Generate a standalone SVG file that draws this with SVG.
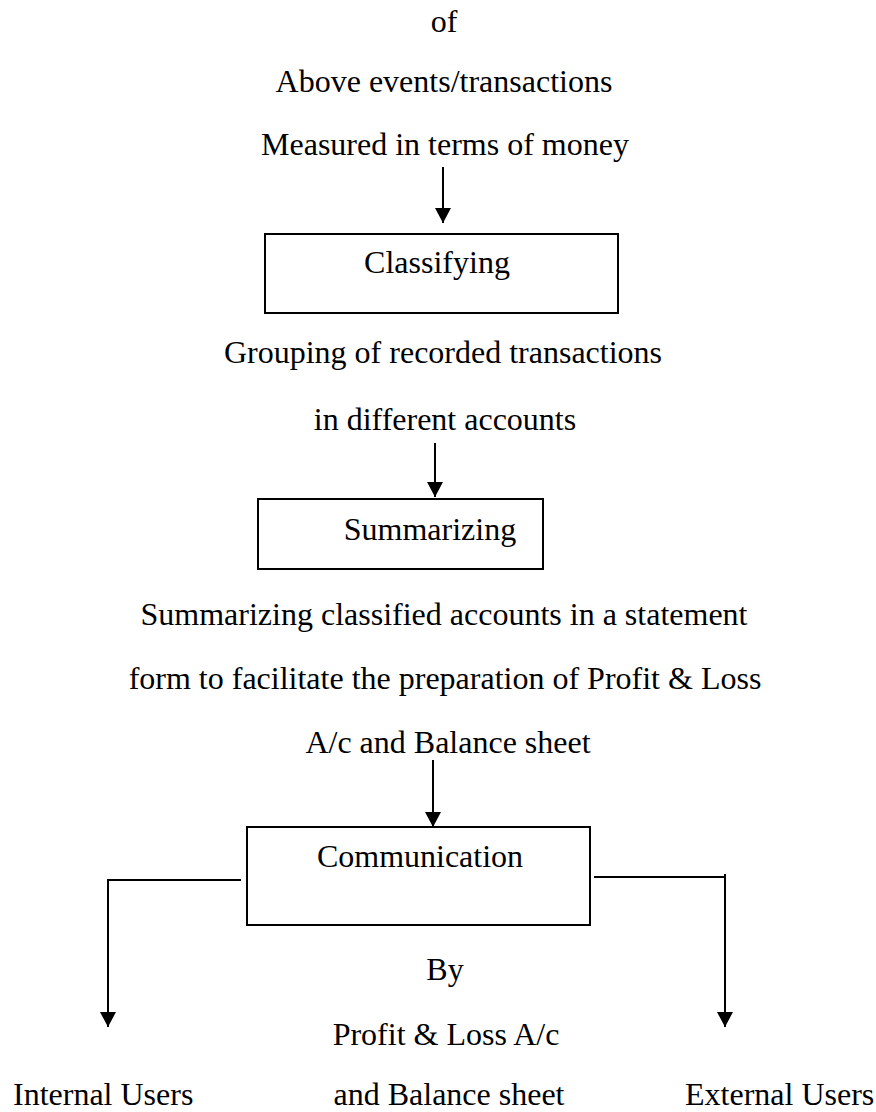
<svg xmlns="http://www.w3.org/2000/svg" width="876" height="1112" viewBox="0 0 876 1112">
  <style>
    text { font-family: "Liberation Serif", "Times New Roman", serif; font-size: 32px; fill: #000; }
    .c { text-anchor: middle; }
    .box { fill: #fff; stroke: #000; stroke-width: 2; }
    .conn { fill: none; stroke: #000; stroke-width: 2; }
  </style>
  <defs>
    <marker id="arrow" markerUnits="userSpaceOnUse" markerWidth="18" markerHeight="18" viewBox="0 0 18 18" refX="16" refY="9" orient="auto">
      <path d="M1,1 L16,9 L1,17 Z" fill="#000"/>
    </marker>
  </defs>

  <rect width="876" height="1112" fill="#fff"/>

  <!-- free-standing labels -->
  <g id="labels">
    <text class="c" x="444" y="32">of</text>
    <text class="c" x="444" y="92">Above events/transactions</text>
    <text class="c" x="445" y="155">Measured in terms of money</text>
    <text class="c" x="443" y="363">Grouping of recorded transactions</text>
    <text class="c" x="445" y="430">in different accounts</text>
    <text class="c" x="444" y="625">Summarizing classified accounts in a statement</text>
    <text class="c" x="445" y="689">form to facilitate the preparation of Profit &amp; Loss</text>
    <text class="c" x="448" y="753">A/c and Balance sheet</text>
    <text class="c" x="445" y="980">By</text>
    <text class="c" x="446" y="1045">Profit &amp; Loss A/c</text>
    <text class="c" x="449" y="1105">and Balance sheet</text>
  </g>

  <g id="classifying">
    <rect class="box" x="265" y="234" width="353" height="79"/>
    <text class="c" x="437" y="273">Classifying</text>
  </g>

  <g id="summarizing">
    <rect class="box" x="258" y="499" width="285" height="70"/>
    <text class="c" x="430" y="540">Summarizing</text>
  </g>

  <g id="communication">
    <rect class="box" x="247" y="827" width="343" height="98"/>
    <text class="c" x="420" y="867">Communication</text>
  </g>

  <g id="internal-users">
    <text x="13" y="1105">Internal Users</text>
  </g>

  <g id="external-users">
    <text x="685" y="1105">External Users</text>
  </g>

  <!-- connectors -->
  <g id="connectors">
    <line class="conn" x1="443" y1="167" x2="443" y2="223" marker-end="url(#arrow)"/>
    <line class="conn" x1="435" y1="443" x2="435" y2="497" marker-end="url(#arrow)"/>
    <line class="conn" x1="433" y1="760" x2="433" y2="827" marker-end="url(#arrow)"/>
    <polyline class="conn" points="241,880 108,880 108,1027" marker-end="url(#arrow)"/>
    <polyline class="conn" points="594,877 725,877" />
    <line class="conn" x1="725" y1="874" x2="725" y2="1027" marker-end="url(#arrow)"/>
  </g>
</svg>
